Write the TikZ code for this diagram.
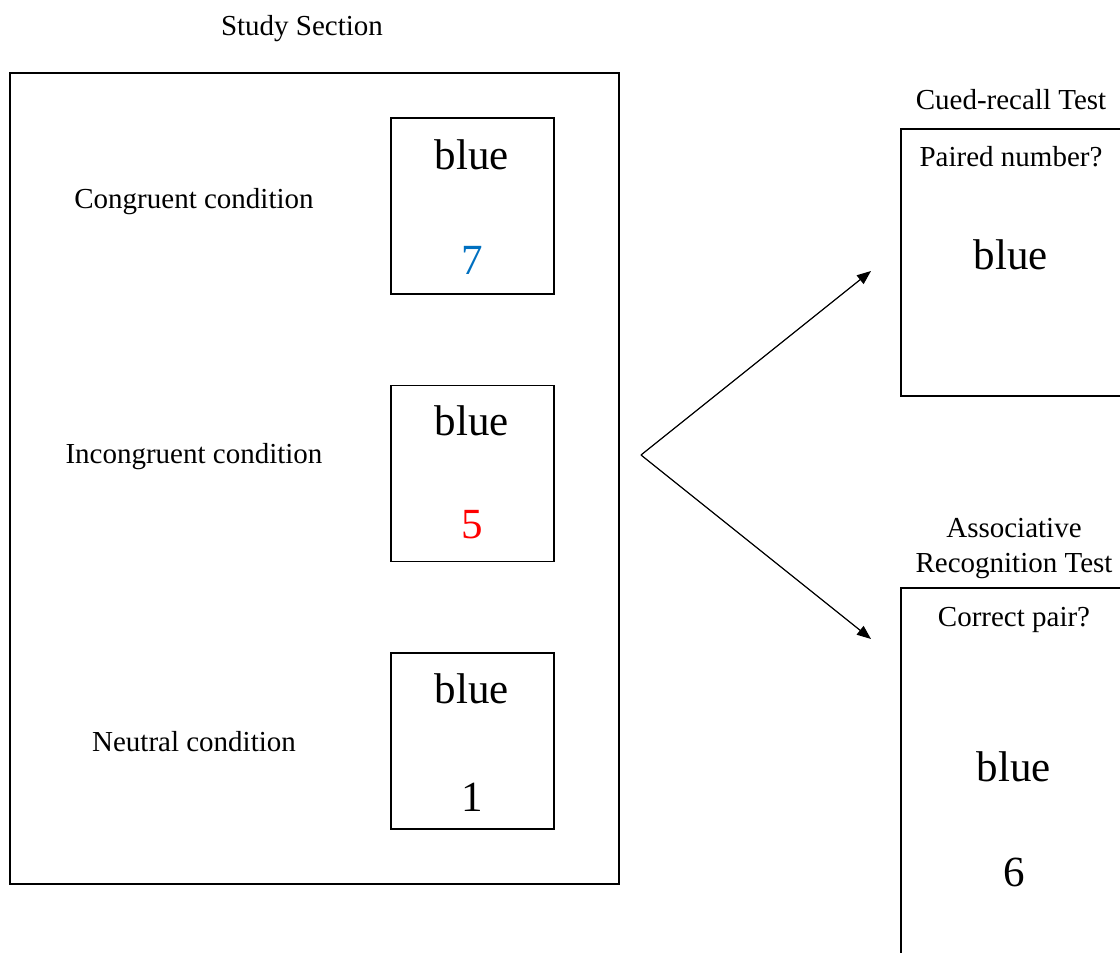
\documentclass[tikz,border=0pt]{standalone}
\usepackage{fontspec}
\setmainfont{Liberation Serif}
\usepackage{xcolor}
\usetikzlibrary{arrows.meta,positioning}
\definecolor{wordblue}{RGB}{0,112,192}
\definecolor{wordred}{RGB}{255,0,0}

\begin{document}
\begin{tikzpicture}[
 x=0.5pt,y=-0.5pt,
 frame/.style={draw,line width=0.6pt,inner sep=0pt},
 pairbox/.style={frame,minimum width=81.5pt,minimum height=88pt},
 lbl/.style={inner sep=0pt,align=center,font=\fontsize{14.5}{17.5}\selectfont},
 big/.style={inner sep=0pt,font=\fontsize{21.5}{25}\selectfont},
 arr/.style={-{Triangle[length=7pt,width=5.5pt]},line width=0.6pt}
]
\useasboundingbox (0,0) rectangle (1120,953);
\clip (0,0) rectangle (1120,953);

\node[lbl] (studytitle) at (302,29) {Study Section};
\node[frame,minimum width=304.5pt,minimum height=405.5pt] (study) at (314.5,478.5) {};
\node[pairbox] (cong) at (472.5,206) {};
\node[pairbox] (incong) at (472.5,473.5) {};
\node[pairbox] (neut) at (472.5,741) {};
\node[lbl] (conglbl) at (194,202) {Congruent condition};
\node[lbl] (inconglbl) at (194,457) {Incongruent condition};
\node[lbl] (neutlbl) at (194,742) {Neutral condition};
\node[big] (congword) at (472,155) {blue};
\node[big,text=wordblue] (congnum) at (472,260) {7};
\node[big] (incongword) at (472,421) {blue};
\node[big,text=wordred] (incongnum) at (472,525) {5};
\node[big] (neutword) at (472,689) {blue};
\node[big] (neutnum) at (472,797) {1};

\coordinate (fork) at (641,455);
\coordinate (cuedin) at (871,271);
\coordinate (associn) at (871,639);
\draw[arr] (fork) -- (cuedin);
\draw[arr] (fork) -- (associn);

\node[lbl] (cuedtitle) at (1011,100) {Cued-recall Test};
\node[frame,minimum width=120pt,minimum height=133.5pt] (cued) at (1021,262.5) {};
\node[lbl] (cuedq) at (1011,157) {Paired number?};
\node[big] (cuedword) at (1011,255) {blue};
\node[lbl] (assoctitle) at (1014,549) {Associative\\Recognition Test};
\node[frame,minimum width=120pt,minimum height=196pt] (assoc) at (1021,784) {};
\node[lbl] (assocq) at (1014,620) {Correct pair?};
\node[big] (assocword) at (1014,767) {blue};
\node[big] (assocnum) at (1014,872) {6};
\end{tikzpicture}
\end{document}
